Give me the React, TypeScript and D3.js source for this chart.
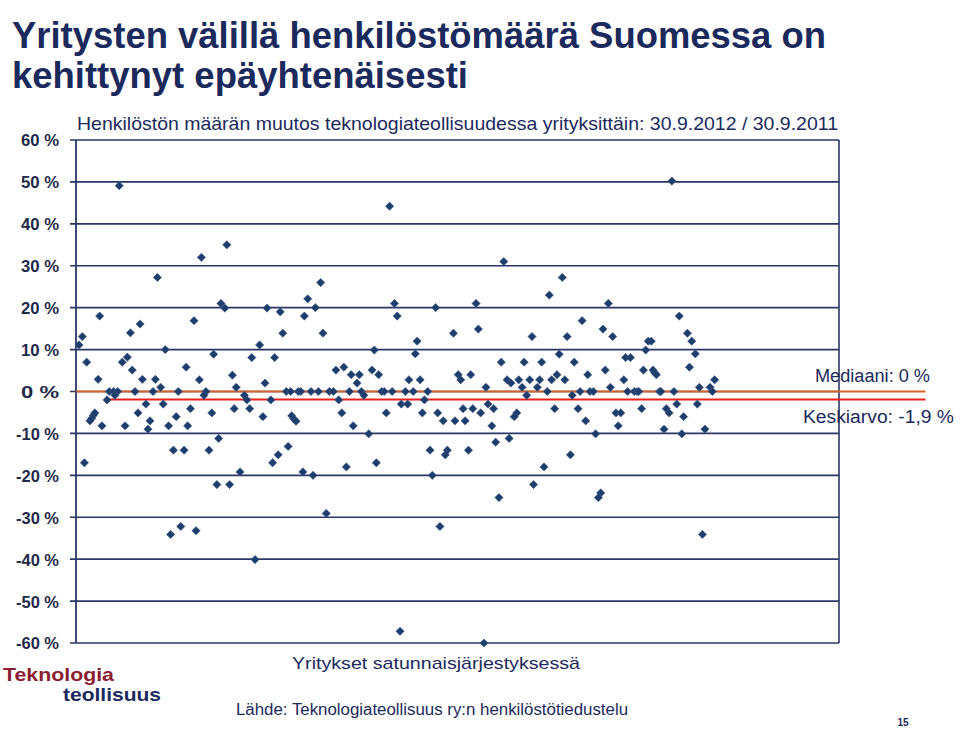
import { useEffect, useRef } from 'react';
import * as d3 from 'd3';

const titleLines = ['Yritysten välillä henkilöstömäärä Suomessa on', 'kehittynyt epäyhtenäisesti'];
const subtitle = 'Henkilöstön määrän muutos teknologiateollisuudessa yrityksittäin: 30.9.2012 / 30.9.2011';
const xTitle = 'Yritykset satunnaisjärjestyksessä';
const sourceText = 'Lähde: Teknologiateollisuus ry:n henkilöstötiedustelu';
const logoLines = ['Teknologia', 'teollisuus'];
const pageNo = '15';

const yTicks = [60, 50, 40, 30, 20, 10, 0, -10, -20, -30, -40, -50, -60];
const xDomain = [0, 300];

const median = 0;
const mean = -1.9;
const medianLabel = 'Mediaani: 0 %';
const meanLabel = 'Keskiarvo: -1,9 %';
// reference lines run past the plot, like the Excel helper series
const medianSpan = [0, 334];
const meanSpan = [11.5, 334];

// [company position (random order), staff change %]
const companies: [number, number][] = [
  [17.0, 49.1], [32.0, 27.2], [9.3, 18.0], [2.5, 13.1], [1.2, 11.1], [25.2, 16.1], [21.4, 14.0], [35.1, 10.0],
  [4.2, 7.0], [18.2, 7.0], [20.2, 8.2], [22.1, 5.1], [8.7, 2.9], [26.1, 2.9], [31.2, 2.9], [43.3, 5.8],
  [33.3, 1.0], [13.1, 0], [14.8, 0], [16.4, 0], [15.3, -0.9], [12.2, -2.0], [23.2, 0], [30.3, 0],
  [40.2, 0], [27.5, -3.0], [34.3, -3.0], [24.4, -5.1], [5.5, -7.0], [6.2, -6.4], [6.8, -5.7], [7.4, -5.1],
  [10.2, -8.2], [19.3, -8.2], [29.1, -7.0], [28.3, -9.0], [36.4, -8.2], [39.4, -6.0], [43.9, -8.2], [45.0, -4.1],
  [3.3, -17.0], [38.3, -14.0], [42.5, -14.0], [37.2, -34.1], [41.2, -32.2],
  [59.3, 35.0], [49.3, 32.0], [57.0, 21.0], [58.5, 19.9], [75.1, 19.9], [80.3, 19.0], [89.8, 18.0], [46.4, 16.9],
  [81.3, 13.9], [72.2, 11.1], [54.1, 8.9], [69.1, 8.1], [78.1, 8.1], [61.5, 3.9], [48.5, 2.8], [74.3, 2.0],
  [63.0, 1.0], [51.1, 0], [50.3, -0.9], [66.2, -0.9], [67.2, -2.0], [76.6, -2.0], [82.7, 0], [84.4, 0],
  [87.4, 0], [88.4, 0], [53.4, -5.1], [62.2, -4.1], [68.3, -4.1], [73.5, -6.0], [84.8, -5.8], [85.6, -6.5],
  [86.5, -7.1], [56.1, -11.2], [52.3, -14.0], [83.4, -13.1], [79.5, -15.1], [77.3, -17.0], [64.5, -19.2], [89.2, -19.2],
  [55.4, -22.2], [60.4, -22.2], [47.2, -33.2], [70.4, -40.1],
  [123.3, 44.2], [96.2, 26.0], [91.1, 22.1], [94.1, 20.0], [125.2, 21.0], [126.3, 18.0], [97.1, 13.9], [117.3, 9.9],
  [134.1, 12.0], [133.4, 9.0], [102.2, 5.1], [105.3, 5.8], [108.2, 4.0], [111.4, 4.0], [110.5, 2.0], [116.4, 5.1],
  [119.0, 4.0], [130.9, 2.8], [135.3, 2.8], [92.4, 0], [95.3, 0], [99.6, 0], [101.2, 0], [107.5, 0],
  [112.2, 0], [120.2, 0], [121.2, 0], [124.3, 0], [129.5, 0], [132.6, 0], [113.2, -0.9], [103.3, -2.0],
  [127.9, -3.0], [130.4, -3.0], [104.5, -5.1], [122.0, -5.1], [109.0, -8.2], [115.1, -10.1], [106.3, -18.0], [118.1, -17.0],
  [93.2, -20.0], [98.4, -29.1],
  [168.2, 31.0], [141.4, 20.0], [157.3, 21.0], [148.4, 13.9], [158.2, 14.9], [179.3, 13.1], [138.3, 0], [137.0, -2.0],
  [136.2, -5.1], [142.2, -5.1], [144.4, -7.0], [149.0, -7.0], [153.0, -7.0], [152.2, -4.1], [156.0, -4.1], [159.1, -5.1],
  [150.3, 4.0], [151.3, 2.8], [155.2, 4.0], [161.2, 1.0], [162.0, -3.0], [164.2, -4.1], [163.5, -8.2], [167.2, 7.0],
  [176.2, 7.0], [169.5, 2.8], [171.0, 2.0], [174.1, 2.8], [178.4, 2.8], [175.4, 1.0], [177.2, -0.9], [173.3, -5.1],
  [172.3, -6.0], [165.0, -12.1], [170.3, -11.2], [139.2, -14.0], [146.0, -14.0], [145.2, -15.1], [154.3, -14.0], [140.1, -20.0],
  [179.9, -22.2], [166.3, -25.3], [143.1, -32.2],
  [191.2, 27.2], [186.1, 23.0], [209.3, 21.0], [199.0, 16.9], [207.2, 14.9], [211.0, 13.1], [193.1, 13.1], [225.0, 12.0],
  [224.0, 9.9], [190.0, 8.9], [216.1, 8.1], [218.0, 8.1], [183.1, 7.0], [195.9, 7.0], [223.1, 5.1], [208.1, 5.1],
  [201.2, 4.0], [189.1, 4.0], [187.0, 2.8], [182.3, 2.8], [192.2, 2.8], [215.4, 2.8], [181.4, 1.0], [210.1, 1.0],
  [185.3, 0], [198.2, 0], [202.1, 0], [203.4, 0], [216.9, 0], [219.5, 0], [220.6, 0], [221.3, 0],
  [195.1, -0.9], [188.2, -4.1], [197.4, -4.1], [222.4, -4.1], [212.3, -5.1], [214.2, -5.1], [200.4, -7.0], [213.2, -8.2],
  [204.3, -10.1], [194.4, -15.1], [184.0, -18.0], [206.3, -24.2], [205.4, -25.3],
  [234.3, 50.2], [237.2, 18.0], [240.4, 13.9], [242.1, 12.0], [243.5, 9.0], [226.2, 12.0], [241.2, 5.8], [226.9, 5.1],
  [227.5, 4.5], [228.2, 4.0], [251.1, 2.8], [245.1, 1.0], [249.3, 1.0], [229.4, 0], [230.0, 0], [235.1, 0],
  [250.2, 0], [236.2, -3.0], [244.3, -3.0], [232.1, -4.1], [233.2, -5.1], [238.9, -6.0], [231.2, -9.0], [238.2, -10.1],
  [247.3, -9.0], [246.3, -34.1],
  [127.4, -57.2], [160.4, -60.0],
];

const navy = '#1b2a5c';
const gridColor = '#2a3765';
const markerColor = '#1f3d6b';

export default function App() {
  const svgRef = useRef<SVGSVGElement | null>(null);

  useEffect(() => {
    document.body.style.margin = '0';
    if (!svgRef.current) return;
    const svg = d3.select(svgRef.current);
    svg.selectAll('*').remove();

    const plot = { left: 76, right: 839, top: 140, bottom: 643 };
    const x = d3.scaleLinear().domain(xDomain).range([plot.left, plot.right]);
    const y = d3.scaleLinear().domain([-60, 60]).range([plot.bottom, plot.top]);

    svg.append('rect').attr('width', 960).attr('height', 735).attr('fill', '#fff');

    // Title
    const title = svg.append('g')
      .attr('font-family', '"Liberation Sans Narrow", "Arial Narrow", "Liberation Sans", Arial, sans-serif')
      .attr('font-weight', 'bold').attr('font-size', '37px').attr('fill', navy);
    title.append('text').attr('x', 12).attr('y', 48)
      .attr('textLength', 814).attr('lengthAdjust', 'spacingAndGlyphs').text(titleLines[0]);
    title.append('text').attr('x', 12).attr('y', 88)
      .attr('textLength', 456).attr('lengthAdjust', 'spacingAndGlyphs').text(titleLines[1]);

    svg.append('text')
      .attr('x', 77).attr('y', 130)
      .attr('font-family', '"Liberation Sans Narrow", "Arial Narrow", "Liberation Sans", Arial, sans-serif')
      .attr('font-size', '19px').attr('fill', navy)
      .attr('textLength', 761).attr('lengthAdjust', 'spacingAndGlyphs')
      .text(subtitle);

    // Gridlines
    svg.append('g').selectAll('line')
      .data(yTicks)
      .join('line')
      .attr('x1', plot.left - 6).attr('x2', plot.right)
      .attr('y1', d => y(d)).attr('y2', d => y(d))
      .attr('stroke', gridColor).attr('stroke-width', 1.6);

    // Frame
    svg.append('line')
      .attr('x1', plot.left).attr('x2', plot.left).attr('y1', plot.top).attr('y2', plot.bottom)
      .attr('stroke', gridColor).attr('stroke-width', 1.8);
    svg.append('line')
      .attr('x1', plot.right).attr('x2', plot.right).attr('y1', plot.top).attr('y2', plot.bottom)
      .attr('stroke', gridColor).attr('stroke-width', 1.6);

    // Y labels
    svg.append('g')
      .attr('font-family', '"Liberation Sans", Arial, sans-serif')
      .attr('font-weight', 'bold').attr('font-size', '17px').attr('fill', '#1f2a48')
      .selectAll('text')
      .data(yTicks)
      .join('text')
      .attr('x', 59).attr('y', d => y(d) + 2)
      .attr('text-anchor', 'end').attr('dominant-baseline', 'middle')
      .attr('textLength', d => (d < 0 ? 43 : 38)).attr('lengthAdjust', 'spacingAndGlyphs')
      .text(d => `${d} %`);

    // Median & mean lines
    svg.append('line')
      .attr('x1', x(medianSpan[0])).attr('x2', x(medianSpan[1]))
      .attr('y1', y(median)).attr('y2', y(median))
      .attr('stroke', '#d4622c').attr('stroke-width', 2);
    svg.append('line')
      .attr('x1', x(meanSpan[0])).attr('x2', x(meanSpan[1]))
      .attr('y1', y(mean)).attr('y2', y(mean))
      .attr('stroke', '#e8211d').attr('stroke-width', 2);

    // Points
    const diamond = d3.symbol().type(d3.symbolSquare).size(34);
    svg.append('g').selectAll('path')
      .data(companies)
      .join('path')
      .attr('d', diamond)
      .attr('transform', d => `translate(${x(d[0])},${y(d[1])}) rotate(45)`)
      .attr('fill', markerColor)
      .attr('stroke', '#3a5a8a').attr('stroke-width', 0.6);

    // Reference labels
    const refLabels = svg.append('g')
      .attr('font-family', '"Liberation Sans", Arial, sans-serif')
      .attr('font-size', '18px').attr('fill', navy);
    refLabels.append('text').attr('x', 815).attr('y', 382)
      .attr('textLength', 115).attr('lengthAdjust', 'spacingAndGlyphs').text(medianLabel);
    refLabels.append('text').attr('x', 803).attr('y', 423)
      .attr('textLength', 151).attr('lengthAdjust', 'spacingAndGlyphs').text(meanLabel);

    // Axis title
    svg.append('text')
      .attr('x', 292).attr('y', 669)
      .attr('font-family', '"Liberation Sans", Arial, sans-serif')
      .attr('font-size', '17px').attr('fill', navy)
      .attr('textLength', 288).attr('lengthAdjust', 'spacingAndGlyphs')
      .text(xTitle);

    // Source
    svg.append('text')
      .attr('x', 236).attr('y', 715)
      .attr('font-family', '"Liberation Sans", Arial, sans-serif')
      .attr('font-size', '16px').attr('fill', navy)
      .attr('textLength', 392).attr('lengthAdjust', 'spacingAndGlyphs')
      .text(sourceText);

    // Logo
    const logo = svg.append('g')
      .attr('font-family', '"Liberation Sans", Arial, sans-serif')
      .attr('font-weight', 'bold').attr('font-size', '19px');
    logo.append('text').attr('x', 3).attr('y', 681).attr('fill', '#8c1d30')
      .attr('textLength', 111).attr('lengthAdjust', 'spacingAndGlyphs').text(logoLines[0]);
    logo.append('text').attr('x', 63).attr('y', 701).attr('fill', navy)
      .attr('textLength', 98).attr('lengthAdjust', 'spacingAndGlyphs').text(logoLines[1]);

    svg.append('text')
      .attr('x', 903).attr('y', 726).attr('text-anchor', 'middle')
      .attr('font-family', '"Liberation Sans", Arial, sans-serif')
      .attr('font-weight', 'bold').attr('font-size', '10px').attr('fill', navy)
      .text(pageNo);
  }, []);

  return <svg ref={svgRef} width={960} height={735} style={{ display: 'block' }} />;
}
